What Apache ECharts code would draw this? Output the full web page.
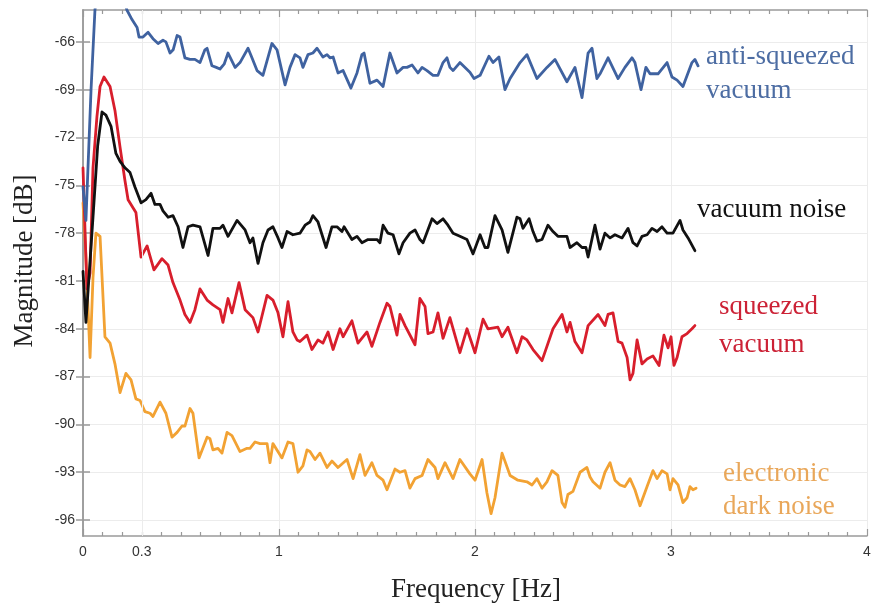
<!DOCTYPE html>
<html>
<head>
<meta charset="utf-8">
<script src="https://cdn.jsdelivr.net/npm/echarts@6/dist/echarts.min.js"></script>
<style>html,body{margin:0;padding:0;background:#fff}#c{width:876px;height:606px}</style>
</head>
<body>
<div id="c"></div>
<script>
// ---- data (frequency [Hz], magnitude [dB]) ----
const xLabelValues = [0, 0.3, 1, 2, 3, 4];
const yTickValues = [-96, -93, -90, -87, -84, -81, -78, -75, -72, -69, -66];

const antiSqueezed = [
 [0,-75.1],[0.015,-77.2],[0.041,-69.0],[0.061,-64.0],[0.09,-61.0],[0.14,-60.5],[0.19,-62.5],[0.224,-64.0],
 [0.25,-64.6],[0.276,-65.1],[0.286,-65.7],[0.306,-65.7],[0.332,-65.4],[0.357,-65.8],[0.383,-66.1],[0.408,-65.9],
 [0.423,-66.0],[0.444,-66.7],[0.46,-66.5],[0.48,-65.6],[0.495,-65.7],[0.52,-67.0],[0.546,-67.1],[0.571,-67.1],
 [0.597,-67.3],[0.622,-66.5],[0.633,-66.4],[0.658,-67.5],[0.68,-67.6],[0.699,-67.7],[0.72,-67.4],[0.74,-66.7],
 [0.776,-67.6],[0.801,-67.3],[0.842,-66.4],[0.862,-67.0],[0.888,-67.8],[0.918,-68.1],[0.964,-66.1],[0.99,-66.5],
 [1.031,-68.7],[1.056,-67.6],[1.082,-66.8],[1.107,-67.0],[1.122,-67.6],[1.148,-66.8],[1.173,-66.7],[1.194,-66.4],
 [1.224,-66.95],[1.245,-66.8],[1.260,-67.0],[1.276,-66.95],[1.301,-67.95],[1.327,-67.8],[1.367,-68.9],[1.398,-67.95],
 [1.423,-66.8],[1.434,-66.7],[1.464,-68.6],[1.500,-68.4],[1.531,-68.8],[1.566,-66.7],[1.602,-67.95],[1.633,-67.6],
 [1.653,-67.6],[1.679,-67.45],[1.709,-67.95],[1.730,-67.6],[1.755,-67.8],[1.786,-68.1],[1.811,-68.1],[1.837,-67.3],
 [1.857,-67.0],[1.872,-67.6],[1.888,-67.8],[1.923,-67.3],[1.974,-67.9],[1.995,-68.3],[2.026,-68.1],[2.071,-66.9],
 [2.092,-67.3],[2.122,-66.95],[2.153,-69.0],[2.179,-68.3],[2.230,-67.3],[2.265,-66.8],[2.316,-68.3],[2.367,-67.6],
 [2.408,-67.1],[2.469,-68.5],[2.510,-67.6],[2.546,-69.5],[2.577,-66.7],[2.597,-66.4],[2.622,-68.3],[2.638,-68.0],
 [2.679,-67.0],[2.730,-68.3],[2.765,-67.6],[2.801,-67.0],[2.816,-67.3],[2.847,-69.0],[2.872,-67.6],[2.893,-68.0],
 [2.934,-68.0],[2.980,-67.3],[3.005,-68.2],[3.031,-68.4],[3.061,-68.8],[3.107,-67.3],[3.122,-67.1],[3.138,-67.5]
];

const vacuumNoise = [
 [0,-80.4],[0.015,-83.6],[0.051,-77.0],[0.075,-72.5],[0.097,-70.4],[0.117,-70.6],[0.143,-71.3],[0.168,-73.0],
 [0.189,-73.5],[0.214,-73.9],[0.240,-74.2],[0.265,-75.1],[0.296,-76.1],[0.321,-75.9],[0.347,-75.5],[0.367,-76.2],
 [0.393,-76.2],[0.408,-76.6],[0.434,-77.0],[0.459,-76.9],[0.485,-77.6],[0.510,-78.9],[0.536,-77.6],[0.561,-77.5],
 [0.597,-77.6],[0.638,-79.4],[0.663,-77.7],[0.699,-77.7],[0.714,-77.5],[0.740,-78.2],[0.786,-77.2],[0.827,-77.8],
 [0.852,-78.6],[0.867,-78.3],[0.893,-79.9],[0.918,-78.6],[0.944,-77.8],[0.969,-77.6],[0.995,-78.3],[1.015,-78.9],
 [1.041,-77.9],[1.071,-78.1],[1.107,-78.0],[1.133,-77.5],[1.158,-77.3],[1.173,-76.9],[1.199,-77.3],[1.240,-78.9],
 [1.270,-77.6],[1.296,-77.6],[1.321,-77.9],[1.332,-77.6],[1.372,-78.4],[1.398,-78.2],[1.423,-78.6],[1.454,-78.4],
 [1.500,-78.4],[1.515,-78.6],[1.531,-77.5],[1.556,-78.0],[1.582,-78.1],[1.612,-79.3],[1.633,-78.6],[1.668,-78.0],
 [1.694,-77.8],[1.719,-78.4],[1.735,-78.6],[1.781,-77.1],[1.806,-77.4],[1.837,-77.1],[1.862,-77.5],[1.888,-78.0],
 [1.923,-78.2],[1.959,-78.4],[1.990,-79.3],[2.026,-78.1],[2.051,-78.9],[2.066,-78.9],[2.102,-76.9],[2.112,-76.8],
 [2.138,-77.8],[2.168,-79.2],[2.214,-77.0],[2.230,-77.1],[2.245,-77.7],[2.276,-77.1],[2.296,-77.9],[2.316,-78.5],
 [2.342,-78.4],[2.372,-77.5],[2.398,-77.9],[2.423,-78.2],[2.469,-78.2],[2.485,-78.9],[2.520,-78.6],[2.546,-78.9],
 [2.566,-78.9],[2.577,-79.5],[2.612,-77.5],[2.638,-79.0],[2.663,-78.0],[2.689,-78.3],[2.714,-78.1],[2.750,-78.3],
 [2.781,-77.7],[2.806,-78.6],[2.827,-78.8],[2.852,-78.2],[2.878,-78.1],[2.903,-77.7],[2.929,-77.9],[2.954,-77.6],
 [2.980,-78.0],[3.010,-78.0],[3.046,-77.2],[3.061,-77.8],[3.087,-78.3],[3.122,-79.1]
];

const squeezedVacuum = [
 [0,-73.9],[0.02,-81.5],[0.036,-80.5],[0.051,-73.9],[0.071,-70.7],[0.087,-68.8],[0.107,-68.2],[0.138,-68.8],
 [0.163,-70.3],[0.189,-72.6],[0.214,-74.7],[0.230,-75.9],[0.270,-76.7],[0.296,-79.5],[0.327,-78.8],[0.362,-80.3],
 [0.403,-79.6],[0.434,-80.0],[0.459,-81.1],[0.495,-82.2],[0.520,-83.1],[0.546,-83.6],[0.571,-82.8],[0.597,-81.5],
 [0.633,-82.2],[0.663,-82.5],[0.699,-82.8],[0.714,-83.6],[0.740,-82.1],[0.760,-83.0],[0.796,-81.1],[0.827,-82.8],
 [0.867,-83.3],[0.893,-84.2],[0.939,-81.9],[0.969,-82.2],[0.995,-83.0],[1.020,-84.5],[1.046,-82.3],[1.071,-84.2],
 [1.092,-84.7],[1.107,-84.8],[1.143,-84.4],[1.168,-85.3],[1.199,-84.7],[1.224,-84.9],[1.250,-84.2],[1.276,-85.3],
 [1.311,-84.0],[1.327,-84.5],[1.372,-83.5],[1.403,-84.9],[1.449,-84.2],[1.474,-85.1],[1.515,-83.6],[1.551,-82.4],
 [1.566,-82.6],[1.602,-84.4],[1.617,-83.1],[1.643,-83.8],[1.694,-85.0],[1.719,-82.1],[1.745,-82.6],[1.760,-84.3],
 [1.786,-84.2],[1.811,-83.0],[1.837,-84.6],[1.872,-83.3],[1.923,-85.5],[1.959,-84.0],[2.000,-85.5],[2.041,-83.4],
 [2.066,-84.0],[2.117,-83.9],[2.138,-84.5],[2.168,-83.9],[2.214,-85.5],[2.240,-84.5],[2.265,-84.7],[2.296,-85.3],
 [2.342,-86.0],[2.398,-84.0],[2.444,-83.1],[2.469,-84.2],[2.485,-83.6],[2.510,-84.8],[2.546,-85.5],[2.577,-83.8],
 [2.628,-83.1],[2.663,-83.8],[2.679,-83.1],[2.704,-83.0],[2.730,-84.8],[2.750,-84.9],[2.776,-85.8],[2.791,-87.2],
 [2.806,-86.8],[2.827,-84.7],[2.852,-86.2],[2.878,-85.9],[2.908,-85.7],[2.939,-86.3],[2.964,-84.4],[2.985,-85.2],
 [3.000,-84.5],[3.015,-86.3],[3.031,-85.8],[3.056,-84.5],[3.082,-84.3],[3.107,-84.0],[3.122,-83.8]
];

const darkNoise = [
 [0,-76.1],[0.015,-79.5],[0.036,-85.8],[0.051,-80.8],[0.066,-78.0],[0.087,-78.2],[0.112,-84.5],[0.138,-84.9],
 [0.163,-86.2],[0.189,-88.0],[0.219,-86.8],[0.245,-87.2],[0.270,-88.4],[0.291,-88.5],[0.316,-89.2],[0.342,-89.3],
 [0.357,-89.5],[0.393,-88.6],[0.423,-89.3],[0.454,-90.8],[0.480,-90.5],[0.505,-90.1],[0.520,-90.1],[0.546,-89.0],
 [0.561,-89.3],[0.592,-92.1],[0.633,-90.8],[0.648,-90.9],[0.663,-91.6],[0.689,-91.5],[0.709,-91.8],[0.735,-90.5],
 [0.760,-90.7],[0.801,-91.7],[0.837,-91.5],[0.852,-91.5],[0.878,-91.1],[0.903,-91.2],[0.939,-91.2],[0.954,-92.4],
 [0.969,-91.2],[1.015,-92.1],[1.046,-91.1],[1.071,-91.2],[1.097,-93.0],[1.122,-92.6],[1.143,-91.6],[1.158,-91.7],
 [1.184,-92.2],[1.209,-91.8],[1.245,-92.7],[1.270,-92.3],[1.301,-92.7],[1.347,-92.2],[1.378,-93.4],[1.413,-91.9],
 [1.439,-93.2],[1.474,-92.4],[1.500,-93.2],[1.531,-93.5],[1.551,-94.1],[1.592,-92.8],[1.617,-93.0],[1.643,-92.9],
 [1.668,-94.0],[1.694,-93.4],[1.730,-93.2],[1.760,-92.2],[1.796,-92.7],[1.811,-93.4],[1.847,-92.4],[1.888,-93.4],
 [1.923,-92.2],[1.974,-93.1],[2.000,-93.5],[2.036,-92.2],[2.061,-94.3],[2.082,-95.6],[2.102,-94.6],[2.138,-91.8],
 [2.179,-93.2],[2.219,-93.5],[2.265,-93.6],[2.291,-93.8],[2.316,-93.4],[2.342,-94.0],[2.367,-93.6],[2.393,-92.9],
 [2.423,-93.2],[2.444,-94.9],[2.459,-95.2],[2.474,-94.4],[2.500,-94.2],[2.536,-93.0],[2.571,-92.7],[2.587,-93.3],
 [2.602,-93.6],[2.638,-94.0],[2.663,-93.0],[2.689,-92.4],[2.714,-93.5],[2.740,-93.8],[2.765,-93.9],[2.791,-93.4],
 [2.816,-94.1],[2.842,-95.1],[2.878,-93.9],[2.908,-92.9],[2.929,-93.4],[2.954,-92.9],[2.980,-93.1],[2.995,-94.1],
 [3.010,-93.4],[3.036,-93.8],[3.061,-94.9],[3.082,-94.6],[3.097,-93.9],[3.112,-94.1],[3.128,-94.0]
];

// ---- styling ----
const COL = { anti:'#3f62a0', vac:'#111111', sq:'#d81e2c', dark:'#f2a233' };
const TXT = { anti:'#4d6da3', vac:'#111111', sq:'#cc2236', dark:'#e9a75a' };
const SERIF = '"Liberation Serif","DejaVu Serif",serif';
const SANS = '"Liberation Sans",Arial,sans-serif';
const axisGrey = '#9a9a9a';
const tickGrey = '#999';
const FS = 27;

const chart = echarts.init(document.getElementById('c'), null, {renderer:'canvas'});

function line(name, data, color, z) {
  return { name, type:'line', data, symbol:'none', clip:true, z,
    lineStyle:{ color, width:2.8, join:'round', cap:'round' }, emphasis:{disabled:true}, animation:false };
}

const xCommon = {
  type:'value', min:0, max:4, interval:1,
  axisLine:{ show:true, lineStyle:{ color:axisGrey, width:1.5 } },
  axisTick:{ show:true, inside:true, length:7, lineStyle:{ color:tickGrey, width:1.2 } },
  minorTick:{ show:true, splitNumber:10, length:4, lineStyle:{ color:tickGrey, width:1.2 } },
};

function label(text, x, y, fill) {
  return { type:'text', x, y, z:100, style:{ text, font:FS+'px '+SERIF, fill, verticalAlign:'middle' } };
}

const option = {
  animation:false,
  backgroundColor:'#fff',
  grid:{ left:83, right:9, top:10, bottom:70, containLabel:false },
  xAxis:[
    Object.assign({}, xCommon, {
      position:'bottom',
      axisLabel:{ show:true, customValues:xLabelValues, color:'#333', fontFamily:SANS, fontSize:14, margin:9,
        formatter:v => String(Math.round(v*10)/10) },
      splitLine:{ show:true, lineStyle:{ color:'#ececec', width:1 } }
    }),
    Object.assign({}, xCommon, {
      position:'top',
      axisLabel:{ show:false },
      splitLine:{ show:false }
    })
  ],
  yAxis:[
    { type:'value', min:-97, max:-64, position:'left',
      axisLine:{ show:true, lineStyle:{ color:axisGrey, width:1.5 } },
      axisTick:{ show:true, inside:true, length:7, customValues:yTickValues, lineStyle:{ color:tickGrey, width:1.5 } },
      axisLabel:{ show:true, customValues:yTickValues, color:'#333', fontFamily:SANS, fontSize:14, margin:8 },
      splitLine:{ show:true, lineStyle:{ color:'#ececec', width:1 } }
    },
    { type:'value', min:-97, max:-64, position:'right',
      axisLine:{ show:true, lineStyle:{ color:axisGrey, width:1.5 } },
      axisTick:{ show:true, inside:true, length:7, customValues:yTickValues, lineStyle:{ color:tickGrey, width:1.5 } },
      axisLabel:{ show:false },
      splitLine:{ show:false }
    }
  ],
  series:[
    { type:'line', data:[], z:1, silent:true,
      markLine:{ silent:true, symbol:'none', label:{show:false}, animation:false,
        lineStyle:{ color:'#ececec', type:'solid', width:1 }, data:[{ xAxis:0.3 }] } },
    line('electronic dark noise', darkNoise, COL.dark, 3),
    line('squeezed vacuum', squeezedVacuum, COL.sq, 4),
    line('vacuum noise', vacuumNoise, COL.vac, 5),
    line('anti-squeezed vacuum', antiSqueezed, COL.anti, 6)
  ],
  graphic:[
    { type:'text', x:25, y:261, rotation:Math.PI/2, z:100,
      style:{ text:'Magnitude [dB]', font:FS+'px '+SERIF, fill:'#222', align:'center', verticalAlign:'middle' } },
    { type:'text', x:476, y:590, z:100,
      style:{ text:'Frequency [Hz]', font:FS+'px '+SERIF, fill:'#222', align:'center', verticalAlign:'middle' } },
    label('anti-squeezed', 706, 57, TXT.anti),
    label('vacuum', 706, 91, TXT.anti),
    label('vacuum noise', 697, 210, TXT.vac),
    label('squeezed', 719, 307, TXT.sq),
    label('vacuum', 719, 345, TXT.sq),
    label('electronic', 723, 474, TXT.dark),
    label('dark noise', 723, 507, TXT.dark)
  ]
};
chart.setOption(option);
</script>
</body>
</html>
